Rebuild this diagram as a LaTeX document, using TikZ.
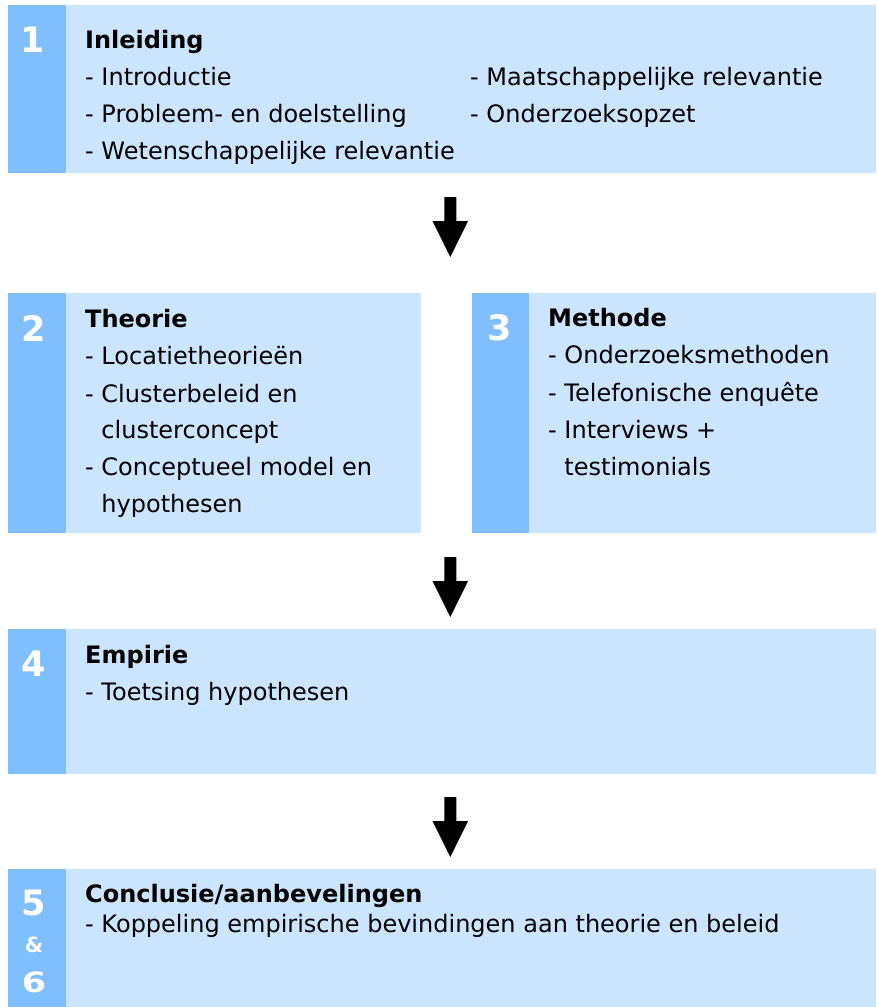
\documentclass[tikz,border=0pt]{standalone}
\usepackage{fontspec}
\setmainfont{DejaVu Sans}
\definecolor{stripblue}{RGB}{128,191,255}
\definecolor{panelblue}{RGB}{204,229,255}
\begin{document}
\begin{tikzpicture}[x=1pt,y=-1pt,
  panel/.style={fill=panelblue,draw=none,inner sep=0,outer sep=0,anchor=north west},
  strip/.style={fill=stripblue,draw=none,inner sep=0,outer sep=0,anchor=north west},
  num/.style={text=white,font=\fontsize{35}{35}\selectfont\bfseries,anchor=base,inner sep=0},
  smallnum/.style={text=white,font=\fontsize{21}{21}\selectfont\bfseries,anchor=base,inner sep=0},
  head/.style={font=\fontsize{24}{28}\selectfont\bfseries,anchor=base west,inner sep=0},
  item/.style={font=\fontsize{24}{28}\selectfont,anchor=base west,inner sep=0},
  downarrow/.pic={\fill[black] (-6,0) -- (6,0) -- (6,24) -- (17.8,24) -- (0,60)
                   -- (-17.8,24) -- (-6,24) -- cycle;}]
\useasboundingbox (0,0) rectangle (876,1007);

% chapter panels with their number strips
\node[panel,minimum width=868,minimum height=168] (p1) at (8,5) {};
\node[strip,minimum width=58,minimum height=168] (s1) at (8,5) {};
\node[panel,minimum width=413,minimum height=240] (p2) at (8,293) {};
\node[strip,minimum width=58,minimum height=240] (s2) at (8,293) {};
\node[panel,minimum width=404,minimum height=240] (p3) at (472,293) {};
\node[strip,minimum width=57,minimum height=240] (s3) at (472,293) {};
\node[panel,minimum width=868,minimum height=145] (p4) at (8,629) {};
\node[strip,minimum width=58,minimum height=145] (s4) at (8,629) {};
\node[panel,minimum width=868,minimum height=138] (p5) at (8,869) {};
\node[strip,minimum width=58,minimum height=138] (s5) at (8,869) {};

% chapter numbers
\node[num] (n1) at (33,52) {1};
\node[num] (n2) at (34,341) {2};
\node[num] (n3) at (500,340) {3};
\node[num] (n4) at (34,676) {4};
\node[num] (n5) at (34,915) {5};
\node[smallnum] (n56) at (34,952) {\&};
\node[num] (n6) at (34,992) {\scalebox{1}[0.8]{6}};

% 1 Inleiding
\node[head] (h1) at (85,48) {Inleiding};
\node[item] (i11) at (85,85) {- Introductie};
\node[item] (i12) at (85,122) {- Probleem- en doelstelling};
\node[item] (i13) at (85,159) {- Wetenschappelijke relevantie};
\node[item] (i14) at (470,85) {- Maatschappelijke relevantie};
\node[item] (i15) at (470,122) {- Onderzoeksopzet};

% 2 Theorie
\node[head] (h2) at (85,327) {Theorie};
\node[item] (i21) at (85,364) {- Locatietheorieën};
\node[item] (i22) at (85,402) {- Clusterbeleid en};
\node[item] (i23) at (85,438) {\hphantom{- }clusterconcept};
\node[item] (i24) at (85,475) {- Conceptueel model en};
\node[item] (i25) at (85,512) {\hphantom{- }hypothesen};

% 3 Methode
\node[head] (h3) at (548,326) {Methode};
\node[item] (i31) at (548,363) {- Onderzoeksmethoden};
\node[item] (i32) at (548,401) {- Telefonische enquête};
\node[item] (i33) at (548,438) {- Interviews +};
\node[item] (i34) at (548,475) {\hphantom{- }testimonials};

% 4 Empirie
\node[head] (h4) at (85,663) {Empirie};
\node[item] (i41) at (85,700) {- Toetsing hypothesen};

% 5 & 6 Conclusie
\node[head] (h5) at (85,902) {Conclusie/aanbevelingen};
\node[item] (i51) at (85,932) {- Koppeling empirische bevindingen aan theorie en beleid};

% flow arrows between the stages
\coordinate (a1) at ([yshift=-24]p1.south -| 450.3,0);
\coordinate (a2) at ([yshift=-24]p2.south -| 450.3,0);
\coordinate (a3) at ([yshift=-23]p4.south -| 450.3,0);
\pic at (a1) {downarrow};
\pic at (a2) {downarrow};
\pic at (a3) {downarrow};
\end{tikzpicture}
\end{document}
